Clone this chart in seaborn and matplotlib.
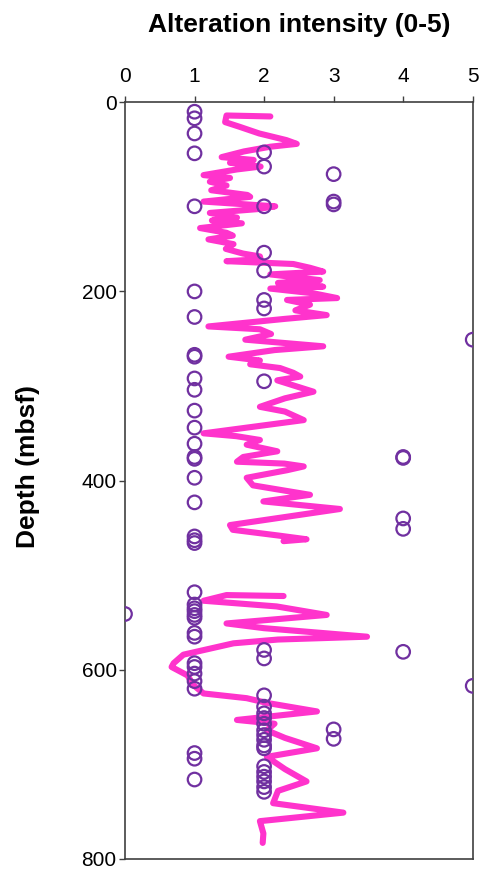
import numpy as np
import pandas as pd
import matplotlib
matplotlib.use('Agg')
import matplotlib.pyplot as plt
import seaborn as sns

# logged alteration intensity (0-5) at sample depths
pt_intensity = ([0] * 1 + [1] * 37 + [2] * 26 + [3] * 5 + [4] * 5 + [5] * 2)
pt_depth = [541,
            10, 17, 33, 54, 110, 200, 227, 267, 269, 292, 304, 326, 344, 361,
            375, 377, 397, 423, 459, 463, 466, 518, 531, 535, 538, 542, 545,
            561, 565, 593, 597, 604, 612, 620, 688, 694, 716,
            53, 68, 110, 159, 178, 209, 218, 295, 579, 588, 627, 639, 646,
            651, 657, 664, 669, 674, 680, 683, 702, 708, 713, 718, 724, 729,
            76, 105, 108, 663, 673,
            375, 376, 440, 451, 581,
            251, 617]

# running-average trace, upper section
trace1_val = [2.09, 1.46, 1.44, 1.65, 1.93, 2.32, 2.47, 2.09, 1.71, 1.39, 1.85,
              1.51, 1.95, 1.61, 1.13, 1.51, 1.22, 1.46, 1.24, 1.76, 1.80, 1.13,
              2.16, 1.90, 1.22, 1.61, 1.25, 1.68, 1.08, 1.46, 1.55, 1.20, 1.56,
              1.45, 1.70, 1.94, 1.95, 1.46, 2.42, 2.66, 2.85, 2.09, 2.80, 2.20,
              2.85, 2.09, 2.71, 3.05, 2.33, 2.66, 2.45, 2.90, 2.30, 1.20, 1.94,
              2.10, 1.73, 2.85, 2.15, 1.49, 1.94, 1.80, 2.23, 2.42, 2.52, 2.19,
              2.45, 2.71, 2.30, 1.94, 2.30, 2.57, 1.13, 1.60, 1.94, 1.75, 2.19,
              1.70, 1.61, 2.29, 2.57, 2.33, 1.75, 1.84, 2.66, 1.99, 3.09, 1.51,
              1.55, 2.20, 2.61, 2.28]
trace1_depth = [15, 14, 21, 26, 33, 40, 44, 47, 52, 58, 61,
                64, 68, 71, 77, 80, 84, 88, 93, 98, 100, 105,
                110, 113, 117, 122, 125, 128, 133, 138, 141, 145, 150,
                155, 160, 163, 166, 168, 171, 175, 179, 182, 188, 191,
                195, 197, 202, 207, 209, 214, 220, 225, 229, 237, 240,
                245, 251, 258, 262, 269, 273, 277, 281, 286, 290, 294,
                300, 306, 313, 322, 327, 336, 350, 353, 357, 362, 369,
                375, 380, 382, 385, 389, 397, 405, 415, 422, 430, 447,
                452, 458, 462, 464]

# running-average trace, lower section
trace2_val = [2.28, 1.46, 1.13, 2.18, 2.90, 1.46, 2.00, 3.48, 2.20, 1.56, 0.84,
              0.70, 0.67, 0.90, 0.98, 1.13, 1.75, 2.04, 2.76, 1.61, 2.15, 2.04,
              2.30, 2.76, 2.04, 2.30, 2.61, 2.20, 2.13, 3.14, 1.94, 1.99, 1.98]
trace2_depth = [522, 521, 527, 533, 542, 551, 556, 565, 568, 572, 584,
                593, 597, 606, 616, 625, 630, 635, 644, 653, 657, 664,
                672, 683, 692, 705, 718, 728, 741, 751, 760, 773, 783]

x_ticks = [0, 1, 2, 3, 4, 5]
y_ticks = [0, 200, 400, 600, 800]


def main():
    sns.set_style('ticks')
    plt.rcParams['font.family'] = ['Liberation Sans', 'DejaVu Sans']

    points = pd.DataFrame({'intensity': pt_intensity, 'depth': pt_depth})
    trace = pd.DataFrame({
        'intensity': trace1_val + trace2_val,
        'depth': trace1_depth + trace2_depth,
        'seg': [1] * len(trace1_val) + [2] * len(trace2_val),
    })

    fig = plt.figure(figsize=(4.83, 8.71), dpi=100)
    ax = fig.add_axes([0.2588, 0.0138, 0.7199, 0.8688])

    sns.lineplot(data=trace, x='intensity', y='depth', units='seg',
                 estimator=None, sort=False, color='#FF33CC', linewidth=4.4,
                 solid_capstyle='round', ax=ax, zorder=2)
    sns.scatterplot(data=points, x='intensity', y='depth', marker='o', s=95,
                    facecolors='none', edgecolor='#7030A0', linewidth=1.6,
                    ax=ax, zorder=3)

    ax.set_xlim(0, 5)
    ax.set_ylim(800, 0)
    ax.set_xticks(x_ticks)
    ax.set_yticks(y_ticks)
    ax.xaxis.tick_top()
    ax.xaxis.set_label_position('top')
    ax.tick_params(axis='both', labelsize=15, length=4, width=1,
                   color='#404040', labelcolor='black')
    ax.tick_params(axis='x', pad=8)
    ax.tick_params(axis='y', pad=2)
    for side in ['top', 'bottom', 'left', 'right']:
        ax.spines[side].set_visible(True)
        ax.spines[side].set_color('#404040')
        ax.spines[side].set_linewidth(1.2)

    ax.set_xlabel('Alteration intensity (0-5)', fontsize=19,
                  fontweight='bold', labelpad=25, color='black')
    ax.set_ylabel('Depth (mbsf)', fontsize=19, fontweight='bold',
                  color='black')
    ax.yaxis.set_label_coords(-0.245, 0.518)

    fig.savefig('out.png', dpi=100)


if __name__ == '__main__':
    main()
